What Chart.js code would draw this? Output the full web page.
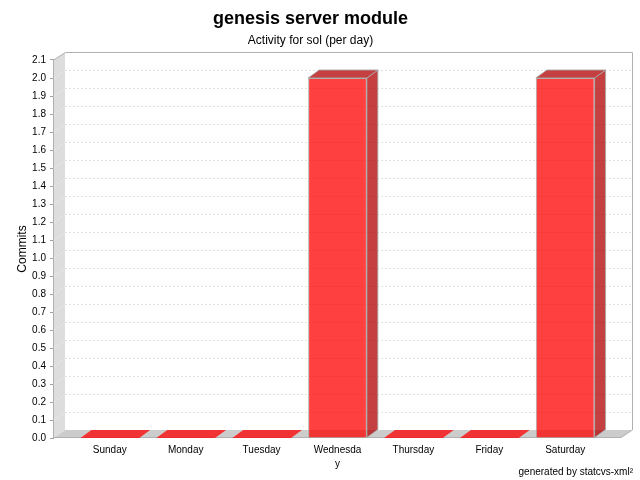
<!DOCTYPE html>
<html>
<head>
<meta charset="utf-8">
<script src="https://cdn.jsdelivr.net/npm/chart.js@4.4.1/dist/chart.umd.min.js"></script>
<style>
html,body{margin:0;padding:0;background:#ffffff;}
#wrap{width:640px;height:480px;position:relative;}
</style>
</head>
<body>
<div id="wrap"><canvas id="c" width="640" height="480"></canvas></div>
<script>
// ---- data ----
const chartTitle = 'genesis server module';
const chartSubtitle = 'Activity for sol (per day)';
const yAxisTitle = 'Commits';
const footerText = 'generated by statcvs-xml\u00B2';
const categories = ['Sunday', 'Monday', 'Tuesday', 'Wednesday', 'Thursday', 'Friday', 'Saturday'];
const commits = [0, 0, 0, 2, 0, 0, 2];
const yTickValues = [0.0, 0.1, 0.2, 0.3, 0.4, 0.5, 0.6, 0.7, 0.8, 0.9, 1.0,
                     1.1, 1.2, 1.3, 1.4, 1.5, 1.6, 1.7, 1.8, 1.9, 2.0, 2.1];
const yMin = 0, yMax = 2.1;

// ---- styling ----
const FONT = '"Liberation Sans", Arial, sans-serif';
const DX = 11, DY = 8;            // 3D depth offset
const X_MARGIN = 0.735;           // axis margin in category units
const BAR_FILL = 'rgba(255,0,0,0.75)';
const BAR_DARK = 'rgba(178,0,0,0.75)';
const BAR_EDGE = 'rgba(170,170,170,0.9)';

const measureCtx = document.createElement('canvas').getContext('2d');
measureCtx.font = '10px ' + FONT;
function wrapLabel(text, maxW) {
  if (measureCtx.measureText(text).width <= maxW) return text;
  const lines = [];
  let cur = '';
  for (const ch of text) {
    if (cur && measureCtx.measureText(cur + ch).width > maxW) { lines.push(cur); cur = ch; }
    else cur += ch;
  }
  if (cur) lines.push(cur);
  return lines;
}

function poly(ctx, pts) {
  ctx.beginPath();
  ctx.moveTo(pts[0][0], pts[0][1]);
  for (let i = 1; i < pts.length; i++) ctx.lineTo(pts[i][0], pts[i][1]);
  ctx.closePath();
}

const threeD = {
  id: 'threeD',
  beforeDatasetsDraw(chart) {
    const {ctx, chartArea: a, scales: {y}} = chart;
    const L = a.left, R = a.right, T = a.top, B = a.bottom;
    ctx.save();
    // left wall
    ctx.fillStyle = '#dddddd';
    poly(ctx, [[L, T], [L + DX, T - DY], [L + DX, B - DY], [L, B]]);
    ctx.fill();
    // floor
    ctx.fillStyle = '#cccccc';
    poly(ctx, [[L, B], [L + DX, B - DY], [R + DX, B - DY], [R, B]]);
    ctx.fill();
    // gridlines
    ctx.lineWidth = 1;
    ctx.setLineDash([2, 2]);
    y.ticks.forEach(t => {
      if (t.value <= y.min || t.value >= y.max) return;
      const py = Math.round(y.getPixelForValue(t.value)) + 0.5;
      ctx.strokeStyle = '#e0e0e0';
      ctx.beginPath(); ctx.moveTo(L + DX, py - DY); ctx.lineTo(R + DX, py - DY); ctx.stroke();
      ctx.strokeStyle = '#eeeeee';
      ctx.beginPath(); ctx.moveTo(L, py); ctx.lineTo(L + DX, py - DY); ctx.stroke();
    });
    ctx.setLineDash([]);
    // outline
    ctx.strokeStyle = '#b0b0b0';
    ctx.beginPath();
    ctx.moveTo(L - 0.5, B);
    ctx.lineTo(L - 0.5, T);
    ctx.lineTo(L + DX + 0.5, T - DY + 0.5);
    ctx.lineTo(R + DX + 0.5, T - DY + 0.5);
    ctx.lineTo(R + DX + 0.5, B - DY);
    ctx.lineTo(R, B - 0.5);
    ctx.lineTo(L - 0.5, B - 0.5);
    ctx.stroke();
    ctx.restore();
  },
  afterDatasetsDraw(chart) {
    const {ctx} = chart;
    const meta = chart.getDatasetMeta(0);
    const data = chart.data.datasets[0].data;
    ctx.save();
    ctx.lineWidth = 1;
    meta.data.forEach((bar, i) => {
      const {x, y, base, width} = bar.getProps(['x', 'y', 'base', 'width'], true);
      const x0 = x - width / 2, x1 = x + width / 2;
      if (data[i].y > 0) {
        ctx.fillStyle = BAR_DARK;
        poly(ctx, [[x1, y], [x1 + DX, y - DY], [x1 + DX, base - DY], [x1, base]]);
        ctx.fill();
        ctx.strokeStyle = BAR_EDGE; ctx.stroke();
        ctx.fillStyle = BAR_DARK;
        poly(ctx, [[x0, y], [x0 + DX, y - DY], [x1 + DX, y - DY], [x1, y]]);
        ctx.fill();
        ctx.strokeStyle = BAR_EDGE; ctx.stroke();
      } else {
        ctx.fillStyle = BAR_FILL;
        poly(ctx, [[x0, base], [x0 + DX, base - DY], [x1 + DX, base - DY], [x1, base]]);
        ctx.fill();
      }
    });
    ctx.restore();
  },
  afterDraw(chart) {
    const {ctx} = chart;
    ctx.save();
    ctx.font = '10px ' + FONT;
    ctx.fillStyle = '#000000';
    ctx.textAlign = 'right';
    ctx.textBaseline = 'alphabetic';
    ctx.fillText(footerText, 633, 475);
    ctx.restore();
  }
};

new Chart(document.getElementById('c'), {
  type: 'bar',
  data: {
    datasets: [{
      label: yAxisTitle,
      data: categories.map((c, i) => ({x: i, y: commits[i]})),
      backgroundColor: BAR_FILL,
      borderColor: BAR_EDGE,
      borderWidth: ctx => (ctx.raw && ctx.raw.y > 0 ? 1 : 0),
      barPercentage: 0.86,
      categoryPercentage: 0.9
    }]
  },
  options: {
    responsive: false,
    animation: false,
    devicePixelRatio: 1,
    layout: {padding: {left: 0, right: 19, top: 0, bottom: 0}},
    plugins: {
      legend: {display: false},
      tooltip: {enabled: false},
      title: {
        display: true, text: chartTitle, color: '#000',
        font: {family: FONT, size: 18, weight: 'bold', lineHeight: 1.2},
        padding: {top: 8, bottom: 4}
      },
      subtitle: {
        display: true, text: chartSubtitle, color: '#000',
        font: {family: FONT, size: 12, lineHeight: 1.2},
        padding: {top: 0, bottom: 12}
      }
    },
    scales: {
      x: {
        type: 'linear',
        offset: false,
        bounds: 'data',
        min: -X_MARGIN,
        max: categories.length - 1 + X_MARGIN,
        grid: {display: false, offset: false, drawTicks: false, tickLength: 0},
        border: {display: false},
        afterBuildTicks: s => { s.ticks = categories.map((c, i) => ({value: i})); },
        afterFit: s => { s.height = 42; },
        ticks: {
          autoSkip: false, maxRotation: 0, minRotation: 0, padding: 5,
          color: '#000',
          font: {family: FONT, size: 10, lineHeight: 1.4},
          callback: v => wrapLabel(categories[v], 50)
        }
      },
      y: {
        type: 'linear',
        min: yMin, max: yMax,
        afterBuildTicks: s => { s.ticks = yTickValues.map(v => ({value: v})); },
        afterFit: s => { s.width = 54; },
        grid: {drawOnChartArea: false, drawTicks: true, tickLength: 4, color: '#a0a0a0'},
        border: {display: false},
        ticks: {
          padding: 4, color: '#000',
          font: {family: FONT, size: 10},
          callback: v => Number(v).toFixed(1)
        },
        title: {
          display: true, text: yAxisTitle, color: '#000',
          font: {family: FONT, size: 12, lineHeight: 1.2},
          padding: {top: 15, bottom: 0}
        }
      }
    }
  },
  plugins: [threeD]
});
</script>
</body>
</html>
